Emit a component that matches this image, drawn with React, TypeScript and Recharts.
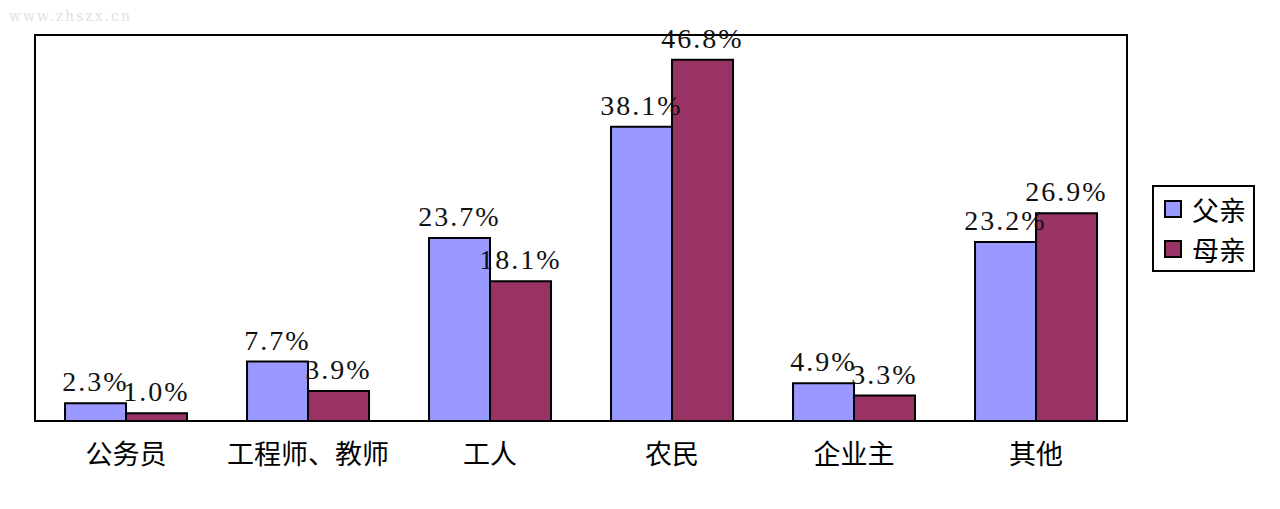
import React from "react";
import { Bar, BarChart, LabelList, Legend, ReferenceArea, XAxis, YAxis } from "recharts";

const categories = ["公务员", "工程师、教师", "工人", "农民", "企业主", "其他"];
const fatherValues = [2.3, 7.7, 23.7, 38.1, 4.9, 23.2];
const motherValues = [1.0, 3.9, 18.1, 46.8, 3.3, 26.9];
const seriesNames = ["父亲", "母亲"];
const seriesColors = ["#9999FF", "#993366"];

const data = categories.map((name, i) => ({
  name,
  father: fatherValues[i],
  mother: motherValues[i],
}));

const labelFont = { fontFamily: "'Liberation Serif', serif", fontSize: 28, letterSpacing: 2 };

function LegendBox() {
  return (
    <div
      style={{
        width: 99,
        height: 81,
        border: "2px solid #000",
        background: "#fff",
        fontFamily: "'Noto Sans CJK SC', sans-serif",
        fontSize: 27,
        color: "#000",
        paddingTop: 2,
        boxSizing: "content-box",
      }}
    >
      {seriesNames.map((n, i) => (
        <div key={n} style={{ display: "flex", alignItems: "center", height: 40, paddingLeft: 10 }}>
          <span
            style={{
              display: "inline-block",
              width: 14,
              height: 14,
              background: seriesColors[i],
              border: "2px solid #000",
              marginRight: 10,
            }}
          />
          <span style={{ lineHeight: 1 }}>{n}</span>
        </div>
      ))}
    </div>
  );
}

export default function App() {
  return (
    <div style={{ position: "absolute", left: 0, top: 0, width: 1280, height: 509, background: "#fff" }}>
      <div
        style={{
          position: "absolute",
          left: 9,
          top: 8,
          fontFamily: "'DejaVu Serif', serif",
          fontSize: 14,
          color: "#e2e2e2",
          letterSpacing: 2,
        }}
      >
        www.zhszx.cn
      </div>
      <BarChart
        width={1280}
        height={509}
        data={data}
        margin={{ top: 35, right: 50, bottom: 0, left: 35 }}
        barCategoryGap="16.5%"
        barGap={0}
      >
        <XAxis
          dataKey="name"
          height={88}
          tickLine={false}
          tickSize={0}
          tickMargin={24}
          axisLine={{ stroke: "#000", strokeWidth: 2 }}
          tick={{ fill: "#000", fontSize: 27, fontFamily: "'Noto Sans CJK SC', sans-serif" }}
          interval={0}
        />
        <YAxis hide domain={[0, 50]} />
        <Legend
          layout="vertical"
          align="right"
          verticalAlign="top"
          content={<LegendBox />}
          wrapperStyle={{ left: 1152, top: 185, right: "auto" }}
        />
        <ReferenceArea
          y1={0}
          y2={50}
          fill="none"
          stroke="#000"
          strokeWidth={2}
          fillOpacity={0}
          ifOverflow="visible"
        />
        <Bar
          dataKey="father"
          name={seriesNames[0]}
          fill={seriesColors[0]}
          stroke="#000"
          strokeWidth={2}
          isAnimationActive={false}
        >
          <LabelList
            dataKey="father"
            position="top"
            offset={12}
            formatter={(v: number) => `${v.toFixed(1)}%`}
            style={{ ...labelFont, fill: "#111" }}
          />
        </Bar>
        <Bar
          dataKey="mother"
          name={seriesNames[1]}
          fill={seriesColors[1]}
          stroke="#000"
          strokeWidth={2}
          isAnimationActive={false}
        >
          <LabelList
            dataKey="mother"
            position="top"
            offset={12}
            formatter={(v: number) => `${v.toFixed(1)}%`}
            style={{ ...labelFont, fill: "#111" }}
          />
        </Bar>
      </BarChart>
    </div>
  );
}
